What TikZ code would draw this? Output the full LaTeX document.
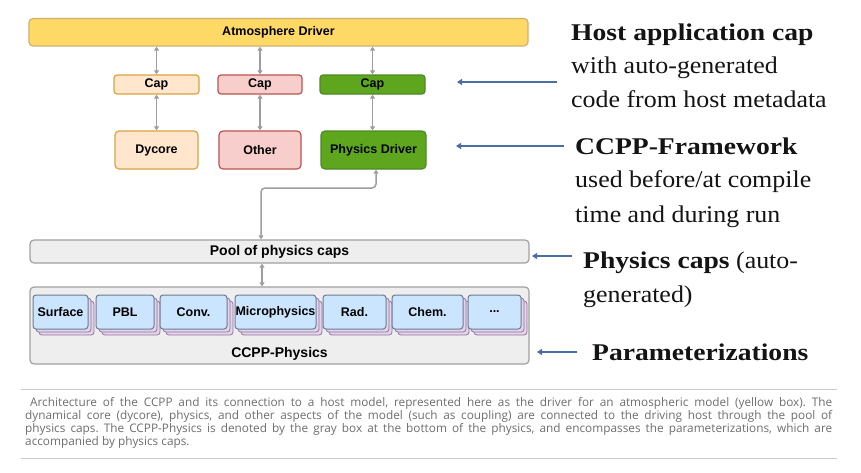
\documentclass[tikz,border=0pt]{standalone}
\usepackage{fontspec}
\setmainfont{Liberation Serif}
\newfontfamily\diagfont{Liberation Sans}
\newfontfamily\annreg[FakeStretch=1.08]{Liberation Serif}
\newfontfamily\annbf[FakeStretch=1.15]{Liberation Serif}
\newfontfamily\capfont{Open Sans}
\newcommand\mythreedots{...}
\usetikzlibrary{arrows.meta}
\definecolor{atmfill}{HTML}{FFD966}
\definecolor{atmdraw}{HTML}{CDB26E}
\definecolor{dycfill}{HTML}{FFE6CC}
\definecolor{dycdraw}{HTML}{D9A441}
\definecolor{othfill}{HTML}{F8CECC}
\definecolor{othdraw}{HTML}{B85450}
\definecolor{phyfill}{HTML}{5EA61E}
\definecolor{phydraw}{HTML}{4C8A28}
\definecolor{grayfill}{HTML}{EEEEEE}
\definecolor{graydraw}{HTML}{A0A0A0}
\definecolor{parfill}{HTML}{CCE5FF}
\definecolor{pardraw}{HTML}{6B7C93}
\definecolor{shfill}{HTML}{E1D5E7}
\definecolor{shdraw}{HTML}{9673A6}
\definecolor{conncol}{HTML}{9E9E9E}
\definecolor{annocol}{HTML}{4A6EA5}
\definecolor{captext}{HTML}{6E6E6E}
\definecolor{caprule}{HTML}{CCCCCC}
\tikzset{
  box/.style={draw, line width=1.2pt, rounded corners=4pt, inner sep=0pt,
    font=\diagfont\bfseries\fontsize{12.5}{14}\selectfont, text=black},
  capbox/.style={box, rounded corners=3pt},
  bigbox/.style={box, font=\diagfont\bfseries\fontsize{14}{16}\selectfont, fill=grayfill, draw=graydraw},
  param/.style={box, rounded corners=3pt, fill=parfill, draw=pardraw, line width=1pt, minimum height=34pt},
  pshadow/.style={draw=shdraw, fill=shfill, line width=0.8pt, rounded corners=3pt, inner sep=0pt, minimum height=34pt},
  conn/.style={draw=conncol, line width=1.5pt, {Triangle[width=5pt,length=4pt]}-{Triangle[width=5pt,length=4pt]}},
  anno/.style={draw=annocol, line width=1.6pt, -{Triangle[width=6pt,length=5pt]}},
  annb/.style={anchor=base west, inner sep=0pt, text=black!92, font=\annbf\bfseries\fontsize{24}{28}\selectfont},
  annr/.style={anchor=base west, inner sep=0pt, text=black!92, font=\annreg\fontsize{24}{28}\selectfont},
  captxt/.style={anchor=base west, inner sep=0pt, text=captext, font=\capfont\fontsize{11.8}{13}\selectfont\frenchspacing},
  caprulestyle/.style={draw=caprule, line width=1pt},
}
\begin{document}
\begin{tikzpicture}[x=1pt,y=-1pt]
\fill[white] (0,0) rectangle (861,472);
\useasboundingbox (0,0) rectangle (861,472);

% top driver
\node[box, fill=atmfill, draw=atmdraw, minimum width=499pt, minimum height=27.5pt] (atm) at (278.5,32.25) {Atmosphere Driver};

% caps
\node[capbox, fill=dycfill, draw=dycdraw, minimum width=85pt, minimum height=19pt] (dcap) at (156.5,84.5) {Cap};
\node[capbox, fill=othfill, draw=othdraw, minimum width=84pt, minimum height=19pt] (ocap) at (260,84.5) {Cap};
\node[capbox, fill=phyfill, draw=phydraw, minimum width=105pt, minimum height=19pt] (pcap) at (372.5,84.5) {Cap};

% components
\node[box, fill=dycfill, draw=dycdraw, minimum width=83pt, minimum height=38pt] (dyc) at (156.5,150) {Dycore};
\node[box, fill=othfill, draw=othdraw, minimum width=82pt, minimum height=38pt] (oth) at (260,150) {Other};
\node[box, fill=phyfill, draw=phydraw, minimum width=105pt, minimum height=38pt] (pdrv) at (373.5,150) {Physics Driver};

% pool and ccpp physics
\node[bigbox, minimum width=499pt, minimum height=23pt] (pool) at (279.5,251.5) {Pool of physics caps};
\node[bigbox, minimum width=499pt, minimum height=77pt] (ccpp) at (279.5,325.5) {};
\node[inner sep=0pt, font=\diagfont\bfseries\fontsize{14}{16}\selectfont] (ccpplab) at (279.5,354) {CCPP-Physics};

% parameterizations
\foreach \n/\cx/\w/\t in {surf/60.5/55/Surface, pbl/125/58/PBL, conv/193.5/67/Conv., micro/275.5/81/Microphysics, rad/354.5/63/Rad., chem/427.5/71/Chem., more/494.5/53/\mythreedots}{
  \node[pshadow, minimum width=\w pt] (\n s2) at (\cx+6,318) {};
  \node[pshadow, minimum width=\w pt] (\n s1) at (\cx+3,315) {};
  \node[param, minimum width=\w pt] (\n) at (\cx,312) {\t};
}

% connectors
\draw[conn] (atm.south -| dcap.north) -- (dcap.north);
\draw[conn] (atm.south -| ocap.north) -- (ocap.north);
\draw[conn] (atm.south -| pcap.north) -- (pcap.north);
\draw[conn] (dcap.south) -- (dcap.south |- dyc.north);
\draw[conn] (ocap.south) -- (ocap.south |- oth.north);
\draw[conn] (pcap.south) -- (pcap.south |- pdrv.north);
\coordinate (bend) at (261,188);
\draw[conn, rounded corners=4pt] ([xshift=2.5pt]pdrv.south) |- (bend) -- (bend |- pool.north);
\draw[conn] ([xshift=-17.5pt]pool.south) -- ([xshift=-17.5pt]ccpp.north);

% annotation arrows
\coordinate (t1) at (557,82);  \coordinate (h1) at (457,82);
\coordinate (t2) at (564,146); \coordinate (h2) at (456,146);
\coordinate (t3) at (572,256); \coordinate (h3) at (532,256);
\coordinate (t4) at (577,352); \coordinate (h4) at (537,352);
\draw[anno] (t1) -- (h1);
\draw[anno] (t2) -- (h2);
\draw[anno] (t3) -- (h3);
\draw[anno] (t4) -- (h4);

% annotation texts
\node[annb] (a1) at (571,40) {Host application cap};
\node[annr] (a2) at (571,73) {with auto-generated};
\node[annr] (a3) at (571,107) {code from host metadata};
\node[annb] (b1) at (575,154) {CCPP-Framework};
\node[annr] (b2) at (575,187) {used before/at compile};
\node[annr] (b3) at (575,222) {time and during run};
\node[annr] (c1) at (583,268) {{\annbf\bfseries Physics caps} (auto-};
\node[annr] (c2) at (583,302) {generated)};
\node[annb] (d1) at (592,360) {Parameterizations};

% caption
\draw[caprulestyle] (21,389) -- (837,389);
\draw[caprulestyle] (21,458) -- (837,458);
\node[captxt] (cap1) at (30,406.7) {\makebox[802pt][s]{Architecture of the CCPP and its connection to a host model, represented here as the driver for an atmospheric model (yellow box). The}};
\node[captxt] (cap2) at (25,419.5) {\makebox[807pt][s]{dynamical core (dycore), physics, and other aspects of the model (such as coupling) are connected to the driving host through the pool of}};
\node[captxt] (cap3) at (25,432.3) {\makebox[807pt][s]{physics caps. The CCPP-Physics is denoted by the gray box at the bottom of the physics, and encompasses the parameterizations, which are}};
\node[captxt] (cap4) at (25,445) {accompanied by physics caps.};
\end{tikzpicture}
\end{document}
